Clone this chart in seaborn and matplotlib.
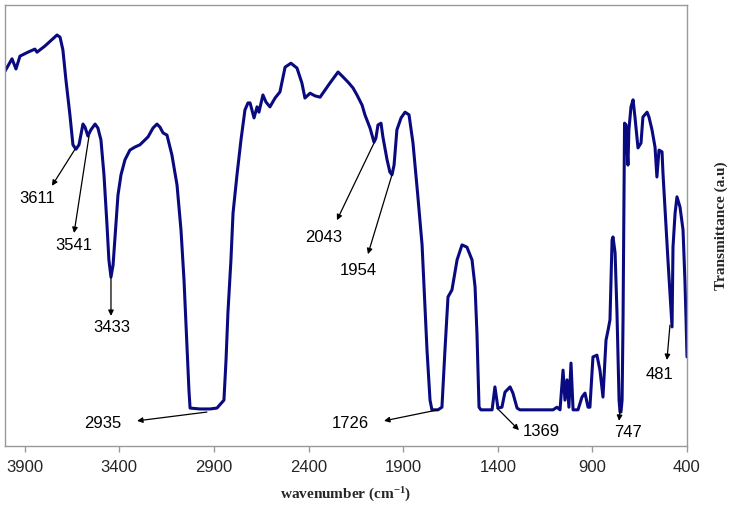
import numpy as np
import pandas as pd
import seaborn as sns
import matplotlib.pyplot as plt

# IR spectrum (wavenumber cm-1, transmittance a.u.)
wavenumber = [4004, 3967, 3946, 3925, 3883, 3846, 3835, 3793, 3729, 3713,
              3698, 3682, 3661, 3645, 3629, 3613, 3592, 3581, 3566, 3550,
              3528, 3513, 3497, 3481, 3465, 3455, 3444, 3433, 3418, 3407,
              3391, 3370, 3344, 3317, 3291, 3248, 3222, 3201, 3185, 3169,
              3148, 3122, 3095, 3074, 3058, 3042, 3032, 3026, 2974, 2921,
              2884, 2847, 2836, 2826, 2810, 2799, 2778, 2757, 2736, 2720,
              2709, 2699, 2688, 2672, 2662, 2641, 2625, 2604, 2577, 2551,
              2524, 2493, 2461, 2435, 2419, 2392, 2366, 2339, 2287, 2244,
              2218, 2191, 2165, 2144, 2117, 2102, 2075, 2054, 2044, 2033,
              2017, 2007, 1985, 1970, 1959, 1948, 1933, 1911, 1890, 1869,
              1848, 1822, 1800, 1774, 1758, 1748, 1716, 1695, 1679, 1663,
              1642, 1615, 1589, 1563, 1536, 1520, 1510, 1499, 1489, 1430,
              1415, 1399, 1378, 1362, 1335, 1320, 1298, 1283, 1108, 1087,
              1071, 1055, 1045, 1034, 1024, 1013, 1002, 976, 955, 939,
              923, 913, 897, 876, 860, 844, 828, 817, 807, 796,
              791, 780, 770, 759, 754, 749, 743, 738, 733, 730,
              722, 717, 712, 707, 696, 685, 675, 659, 643, 633,
              611, 601, 585, 569, 559, 548, 532, 527, 511, 500,
              490, 479, 474, 463, 453, 437, 421, 411, 405, 400]
transmittance = [85.0, 87.8, 85.5, 88.4, 89.3, 90.0, 89.3, 90.7, 93.2, 92.7,
                 89.8, 83.0, 75.1, 68.3, 67.3, 68.3, 73.0, 72.3, 70.3, 71.7,
                 73.0, 72.1, 69.4, 61.5, 50.1, 42.2, 38.3, 41.0, 50.1, 56.9,
                 61.5, 64.9, 67.1, 67.8, 68.3, 70.1, 72.1, 73.0, 72.3, 71.0,
                 70.5, 66.0, 59.2, 49.0, 37.6, 22.4, 12.7, 8.6, 8.4, 8.4,
                 8.6, 10.4, 19.5, 30.2, 42.2, 52.8, 61.5, 69.4, 76.2, 77.8,
                 77.8, 76.2, 74.4, 76.9, 75.7, 79.6, 78.0, 76.9, 78.9, 80.3,
                 85.9, 86.8, 85.7, 82.3, 78.9, 80.0, 79.4, 79.1, 82.3, 84.8,
                 83.7, 82.5, 81.2, 79.6, 77.3, 75.1, 72.1, 68.9, 69.8, 72.8,
                 73.2, 70.1, 64.9, 62.1, 61.5, 63.7, 71.7, 74.4, 75.7, 75.1,
                 68.7, 56.5, 45.6, 21.8, 10.4, 8.2, 8.2, 8.8, 21.8, 33.8,
                 35.4, 42.2, 45.6, 45.1, 42.2, 36.1, 25.6, 8.8, 8.2, 8.2,
                 13.4, 8.6, 8.8, 12.2, 13.4, 12.0, 8.6, 8.2, 8.2, 8.8,
                 8.2, 17.2, 10.4, 15.0, 8.8, 18.8, 8.2, 8.2, 11.1, 12.0,
                 8.8, 8.8, 20.2, 20.6, 17.2, 11.1, 24.0, 26.3, 28.6, 46.7,
                 47.4, 43.8, 30.2, 10.4, 7.7, 7.7, 10.4, 28.6, 55.8, 73.2,
                 72.8, 67.8, 63.7, 71.7, 76.9, 78.5, 74.6, 67.6, 68.7, 74.6,
                 75.7, 74.6, 71.7, 67.8, 61.0, 67.1, 66.7, 61.9, 49.7, 41.7,
                 34.7, 27.0, 45.1, 52.8, 56.5, 54.2, 49.0, 37.6, 28.8, 20.2]

# peak labels: label, peak point, arrow tip, text position
peak_labels = ["3611", "3541", "3433", "2935", "2043", "1954", "1726", "1369", "747", "481"]
peak_from = [(3634, 67.3), (3560, 70.3), (3444, 38.3), (2937, 7.7), (2054, 68.7),
             (1959, 61.5), (1716, 8.2), (1404, 8.6), (754, 8.2), (490, 27.4)]
peak_tip = [(3756, 59.0), (3639, 48.3), (3444, 29.5), (3306, 5.7), (2250, 51.2),
            (2086, 43.5), (2001, 5.7), (1288, 3.6), (759, 5.7), (506, 19.5)]
peak_text = [(3835, 56.2), (3639, 45.4), (3439, 26.8), (3486, 5.0), (2318, 47.2),
             (2139, 39.7), (2181, 5.2), (1172, 3.2), (712, 3.0), (543, 16.1)]

xticks = [3900, 3400, 2900, 2400, 1900, 1400, 900, 400]

df = pd.DataFrame({"wn": wavenumber, "T": transmittance})

sns.set_style("white")
plt.rcParams['font.family'] = ['Liberation Sans', 'DejaVu Sans']
plt.rcParams['mathtext.default'] = 'regular'

fig = plt.figure(figsize=(7.36, 5.17), dpi=100)
ax = fig.add_axes([5 / 736, 1 - 446 / 517, 682 / 736, 441 / 517])

sns.lineplot(data=df, x="wn", y="T", sort=False, estimator=None,
             color="#0a0a80", linewidth=2.2, ax=ax)

for lab, p0, p1, pt in zip(peak_labels, peak_from, peak_tip, peak_text):
    ax.annotate("", xy=p1, xytext=p0,
                arrowprops=dict(arrowstyle="-|>", color="black", lw=0.9,
                                mutation_scale=8, shrinkA=0, shrinkB=0))
    ax.text(pt[0], pt[1], lab, ha="center", va="center", fontsize=12, color="black")

ax.set_xlim(4004, 400)
ax.set_ylim(0, 100)
ax.set_xticks(xticks)
ax.set_xticklabels([str(t) for t in xticks])
ax.set_yticks([])
ax.tick_params(axis="x", direction="out", length=4, width=1, color="#999999",
               labelsize=12, pad=6, bottom=True)

for s in ax.spines.values():
    s.set_color("#999999")
    s.set_linewidth(1)

ax.set_xlabel("wavenumber (cm$^{-1}$)", fontsize=11, fontweight="bold",
              family="Liberation Serif", labelpad=8)
ax.yaxis.set_label_position("right")
ax.set_ylabel("Transmittance (a.u)", fontsize=11, fontweight="bold",
              family="Liberation Serif", labelpad=20)

fig.savefig("out.png", dpi=100)
